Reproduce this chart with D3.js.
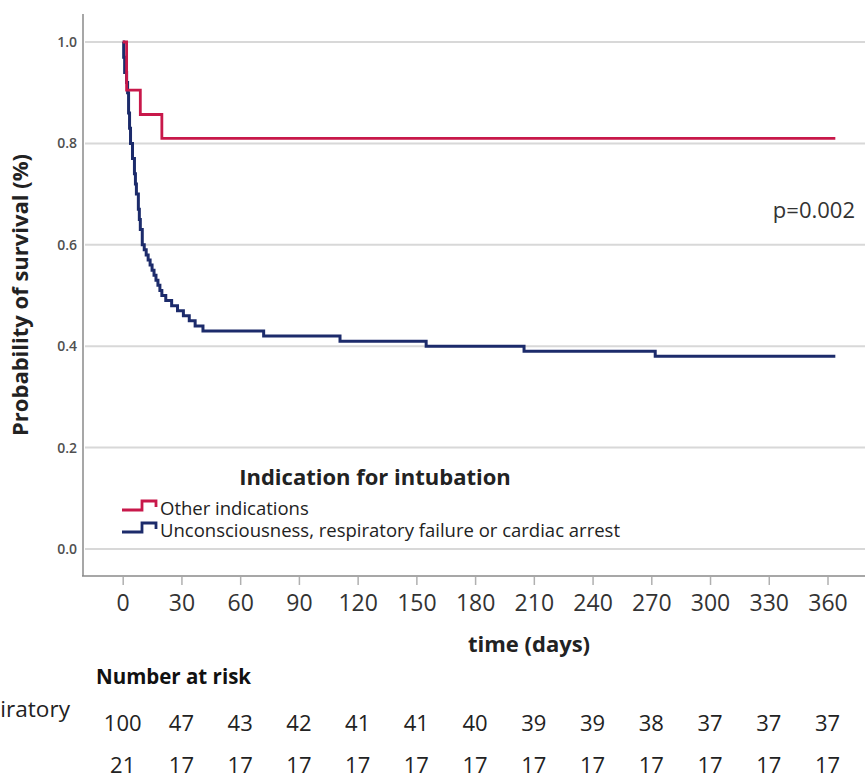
<!DOCTYPE html>
<html>
<head>
<meta charset="utf-8">
<script src="https://cdn.jsdelivr.net/npm/d3@7"></script>
<style>
  body { margin: 0; background: #fff; }
  svg { display: block; font-family: "Open Sans", sans-serif; }
</style>
</head>
<body>
<div class="render"></div>
<script>
// Kaplan-Meier steps
var redTimes = [0, 2, 9, 20, 364];
var redSurv  = [1.0, 0.905, 0.857, 0.81, 0.81];

var blueTimes = [0, 0.5, 1, 2, 2.5, 3, 3.5, 4, 5, 6, 6.5, 7, 8, 8.5, 9, 10, 11, 12, 13, 14,
                 15, 16, 17, 18, 19, 20, 22, 25, 28, 31, 34, 37, 41, 72, 111, 155, 205, 272, 364];
var blueSurv  = [1.0, 0.97, 0.94, 0.92, 0.90, 0.86, 0.83, 0.80, 0.77, 0.74, 0.72, 0.70, 0.67, 0.65, 0.63, 0.60, 0.59, 0.58, 0.57, 0.56,
                 0.55, 0.54, 0.53, 0.52, 0.51, 0.50, 0.49, 0.48, 0.47, 0.46, 0.45, 0.44, 0.43, 0.42, 0.41, 0.40, 0.39, 0.38, 0.38];

var xTicks = [0, 30, 60, 90, 120, 150, 180, 210, 240, 270, 300, 330, 360];
var yTicks = [0, 0.2, 0.4, 0.6, 0.8, 1.0];

var riskBlue = [100, 47, 43, 42, 41, 41, 40, 39, 39, 38, 37, 37, 37];
var riskRed  = [21, 17, 17, 17, 17, 17, 17, 17, 17, 17, 17, 17, 17];

var seriesNames = ['Other indications', 'Unconsciousness, respiratory failure or cardiac arrest'];
var colors = ['#c8184a', '#1c2b6b'];

function draw() {
   var w = 865, h = 778;
   var svg = d3.select('.render').append('svg').attr('width', w).attr('height', h);

   var x = d3.scaleLinear().domain([0, 360]).range([122.7, 827.5]);
   var y = d3.scaleLinear().domain([0, 1]).range([549, 42]);

   // gridlines
   svg.append('g').selectAll('line').data(yTicks).enter().append('line')
      .attr('x1', 85).attr('x2', w)
      .attr('y1', function (d) { return y(d); }).attr('y2', function (d) { return y(d); })
      .attr('stroke', '#d8d8d8').attr('stroke-width', 2);

   // frame
   svg.append('line').attr('x1', 83).attr('x2', 83).attr('y1', 14).attr('y2', 576)
      .attr('stroke', '#8a8a8a').attr('stroke-width', 1.5);
   svg.append('line').attr('x1', 82).attr('x2', w).attr('y1', 576).attr('y2', 576)
      .attr('stroke', '#8a8a8a').attr('stroke-width', 1.5);

   // y axis
   var yAxis = d3.axisLeft(y).tickValues(yTicks).tickFormat(d3.format('.1f')).tickSize(0).tickPadding(0);
   var gy = svg.append('g').attr('transform', 'translate(77,0)').call(yAxis);
   gy.select('.domain').remove();
   gy.selectAll('text').style('font-size', '14px').style('font-weight', '600').attr('fill', '#505050')
      .attr('font-family', 'Open Sans, sans-serif');

   // x axis
   var xAxis = d3.axisBottom(x).tickValues(xTicks).tickSize(8).tickPadding(10);
   var gx = svg.append('g').attr('transform', 'translate(0,577)').call(xAxis);
   gx.select('.domain').remove();
   gx.selectAll('line').attr('stroke', '#b0b0b0').attr('stroke-width', 1.5);
   gx.selectAll('text').style('font-size', '23px').attr('fill', '#333')
      .attr('font-family', 'Open Sans, sans-serif');

   // curves
   var line = d3.line()
      .x(function (d) { return x(d[0]); })
      .y(function (d) { return y(d[1]); })
      .curve(d3.curveStepAfter);
   var blueData = d3.zip(blueTimes, blueSurv);
   var redData = d3.zip(redTimes, redSurv);
   svg.append('path').datum(blueData).attr('d', line).attr('fill', 'none')
      .attr('stroke', colors[1]).attr('stroke-width', 3);
   svg.append('path').datum(redData).attr('d', line).attr('fill', 'none')
      .attr('stroke', colors[0]).attr('stroke-width', 2.8);

   // axis titles
   svg.append('text').text('Probability of survival (%)')
      .attr('transform', 'translate(28,295)rotate(-90)').attr('text-anchor', 'middle')
      .style('font-size', '22px').style('font-weight', 'bold').attr('fill', '#222');
   svg.append('text').text('time (days)').attr('x', 529).attr('y', 652).attr('text-anchor', 'middle')
      .style('font-size', '22px').style('font-weight', 'bold').attr('fill', '#222');

   svg.append('text').text('p=0.002').attr('x', 855).attr('y', 218).attr('text-anchor', 'end')
      .style('font-size', '22px').attr('fill', '#333');

   // legend
   svg.append('text').text('Indication for intubation').attr('x', 375).attr('y', 485).attr('text-anchor', 'middle')
      .style('font-size', '22px').style('font-weight', 'bold').attr('fill', '#222');
   var leg = svg.append('g').selectAll('g').data(seriesNames).enter().append('g')
      .attr('transform', function (d, i) { return 'translate(122,' + (510 + i * 22) + ')'; });
   leg.append('path').attr('d', 'M0,0H20V-9H34V-3').attr('fill', 'none')
      .attr('stroke', function (d, i) { return colors[i]; }).attr('stroke-width', 2.8);
   leg.append('text').text(function (d) { return d; }).attr('x', 38).attr('y', 5)
      .style('font-size', '18.5px').attr('fill', '#222');

   // number at risk
   svg.append('text').text('Number at risk').attr('x', 96).attr('y', 684)
      .style('font-size', '20.5px').style('font-weight', 'bold').attr('fill', '#111');
   svg.append('text').text('Unconsciousness, respiratory').attr('x', 70).attr('y', 717).attr('text-anchor', 'end')
      .style('font-size', '22.6px').attr('fill', '#222');
   svg.append('g').selectAll('text').data(riskBlue).enter().append('text')
      .text(function (d) { return d; })
      .attr('x', function (d, i) { return x(xTicks[i]); }).attr('y', 731).attr('text-anchor', 'middle')
      .style('font-size', '22px').attr('fill', '#222');
   svg.append('g').selectAll('text').data(riskRed).enter().append('text')
      .text(function (d) { return d; })
      .attr('x', function (d, i) { return x(xTicks[i]); }).attr('y', 773).attr('text-anchor', 'middle')
      .style('font-size', '22px').attr('fill', '#222');
}
draw();
</script>
</body>
</html>
